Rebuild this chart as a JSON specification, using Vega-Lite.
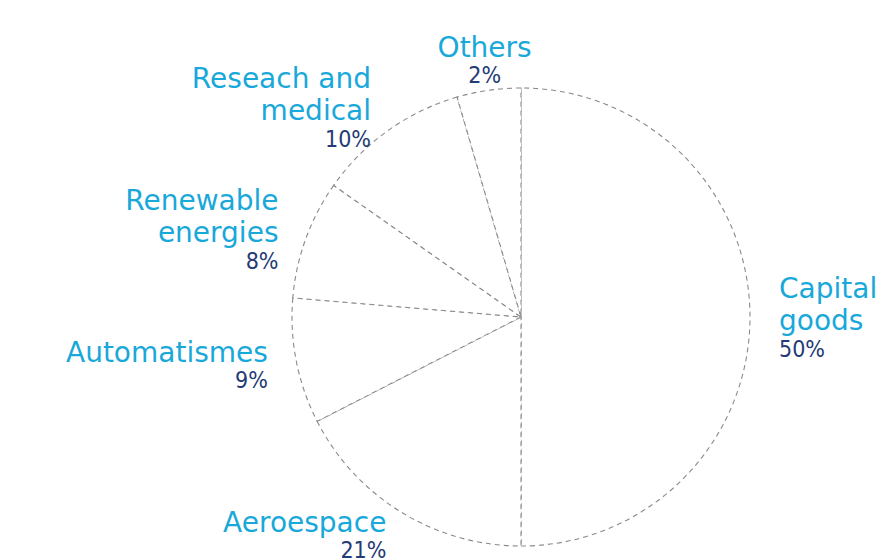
{
  "$schema": "https://vega.github.io/schema/vega-lite/v6.json",
  "width": 600,
  "height": 460,
  "autosize": "none",
  "padding": {"left": 221, "top": 87, "right": 60, "bottom": 13},
  "background": "white",
  "config": {"view": {"stroke": null}},
  "data": {
    "values": [
      {"category": "Capital goods", "label": "Capital\ngoods", "pct": "50%", "share": 50.0, "order": 1},
      {"category": "Aeroespace", "label": "Aeroespace", "pct": "21%", "share": 17.47, "order": 2},
      {"category": "Automatismes", "label": "Automatismes", "pct": "9%", "share": 8.86, "order": 3},
      {"category": "Renewable energies", "label": "Renewable\nenergies", "pct": "8%", "share": 8.42, "order": 4},
      {"category": "Reseach and medical", "label": "Reseach and\nmedical", "pct": "10%", "share": 10.75, "order": 5},
      {"category": "Others", "label": "Others", "pct": "2%", "share": 4.5, "order": 6}
    ]
  },
  "encoding": {
    "theta": {"field": "share", "type": "quantitative", "stack": true},
    "order": {"field": "order", "type": "quantitative"}
  },
  "layer": [
    {
      "mark": {"type": "arc", "outerRadius": 229, "fill": "white", "stroke": "#8a8a8a", "strokeDash": [5, 4], "strokeWidth": 1.1}
    },
    {
      "mark": {
        "type": "text", "radius": 258, "fontSize": 28, "font": "DejaVu Sans", "fill": "#19a8da",
        "lineBreak": "\n", "lineHeight": 32, "baseline": "middle",
        "dy": {"expr": "indexof(datum.label, '\\n') >= 0 ? -27 : -13"},
        "align": {"expr": "datum.category === 'Capital goods' ? 'left' : datum.category === 'Others' ? 'center' : 'right'"}
      },
      "encoding": {"text": {"field": "label"}}
    },
    {
      "mark": {
        "type": "text", "radius": 258, "fontSize": 23, "font": "DejaVu Sans Condensed, DejaVu Sans, sans-serif", "fill": "#253b75",
        "baseline": "middle",
        "dy": {"expr": "indexof(datum.label, '\\n') >= 0 ? 33 : 14"},
        "align": {"expr": "datum.category === 'Capital goods' ? 'left' : datum.category === 'Others' ? 'center' : 'right'"}
      },
      "encoding": {"text": {"field": "pct"}}
    }
  ]
}
